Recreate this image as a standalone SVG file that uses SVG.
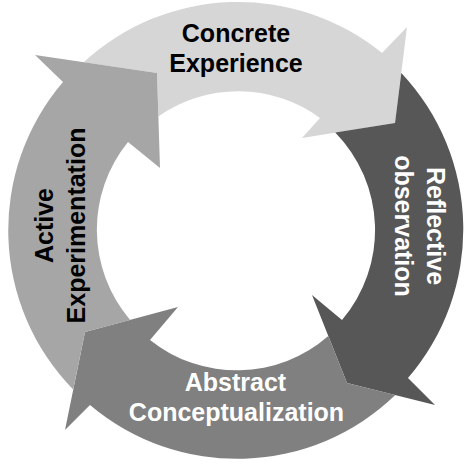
<svg xmlns="http://www.w3.org/2000/svg" width="474" height="466" viewBox="0 0 474 466">
<style>
.lbl{font-family:"Liberation Sans",Arial,sans-serif;font-weight:bold;font-size:25px;text-anchor:middle}
.dk{fill:#000000}
.wt{fill:#ffffff}
</style>
<rect x="0" y="0" width="474" height="466" fill="#ffffff"/>
<g id="connectors"></g>
<g id="concrete-experience">
<path fill="#d6d6d6" d="M83.7,62.2 A228,228 0 0 1 382,53 L407,27 L395,123 L302,138 L320,118 A139,139 0 0 0 158.4,116.4 L157,73 Z"/>
<text class="lbl dk" x="236" y="42">Concrete</text>
<text class="lbl dk" x="236" y="72">Experience</text>
</g>
<g id="reflective-observation">
<path fill="#575757" d="M401.3,72.9 A228,228 0 0 1 408,378 L435,405 L347,383 L312,295 L342,320 A139,139 0 0 0 335.2,132.6 L395,123 Z"/>
<g transform="translate(427,226) rotate(90)">
<text class="lbl wt" x="0" y="0">Reflective</text>
<text class="lbl wt" x="0" y="31.7">observation</text>
</g>
</g>
<g id="abstract-conceptualization">
<path fill="#808080" d="M395.3,395.1 A228,228 0 0 1 90,405 L65,430 L85,332 L178,307 L150,340 A139,139 0 0 0 328.3,335.9 L347,383 Z"/>
<text class="lbl wt" x="235.5" y="391.3">Abstract</text>
<text class="lbl wt" x="236.5" y="421.3">Conceptualization</text>
</g>
<g id="active-experimentation">
<path fill="#a6a6a6" d="M73.2,389.6 A228,228 0 0 1 63,82 L35,55 L157,73 L160,168 L128,142 A139,139 0 0 0 130.1,319.9 L85,332 Z"/>
<g transform="translate(53.3,225.5) rotate(-90)">
<text class="lbl dk" x="0" y="0">Active</text>
<text class="lbl dk" x="0" y="31.7">Experimentation</text>
</g>
</g>
</svg>
